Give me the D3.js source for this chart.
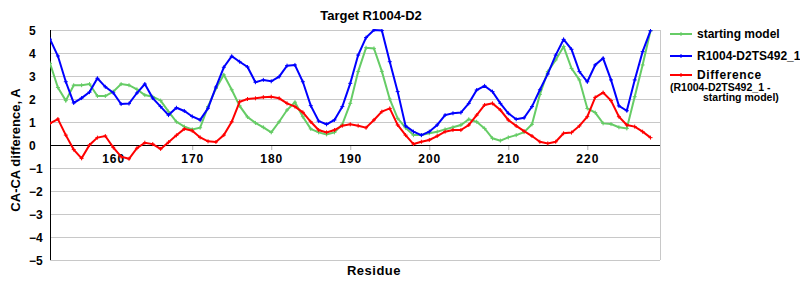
<!DOCTYPE html>
<html>
<head>
<meta charset="utf-8">
<script src="https://cdn.jsdelivr.net/npm/d3@7"></script>
<style>
  body { margin: 0; background: #fff; }
  svg { display: block; font-family: "Liberation Sans", Arial, sans-serif; }
</style>
</head>
<body>
<div id="chart"></div>
<script>
// residues 152..228
const firstResidue = 152;

const startingModel = [
  3.55, 2.5, 1.93, 2.6, 2.6, 2.65, 2.13, 2.13, 2.32, 2.65, 2.6, 2.42, 2.17, 2.1, 1.93,
  1.45, 1.01, 0.8, 0.68, 0.75, 1.67, 2.46, 3.05, 2.4, 1.7, 1.22, 0.96, 0.77, 0.55,
  1.01, 1.52, 1.86, 1.23, 0.7, 0.55, 0.46, 0.55, 0.9, 1.81, 3.19, 4.23, 4.2, 3.2,
  1.99, 1.16, 0.75, 0.43, 0.43, 0.51, 0.58, 0.68, 0.77, 0.87, 1.12, 1.01, 0.72, 0.29, 0.19, 0.33, 0.43, 0.56, 0.9, 2.2,
  3.19, 3.7, 4.28, 3.33, 2.83, 1.59, 1.41, 0.94, 0.91, 0.77, 0.72, 2.1, 3.48, 4.97
];

const ts492 = [
  4.6, 3.87, 2.75, 1.83, 2.04, 2.3, 2.9, 2.53, 2.27, 1.78, 1.8, 2.26, 2.65, 2.04, 1.67,
  1.3, 1.62, 1.48, 1.24, 1.09, 1.6, 2.52, 3.38, 3.86, 3.62, 3.39, 2.73, 2.83, 2.77,
  2.97, 3.45, 3.48, 2.75, 1.71, 1.04, 0.9, 1.09, 1.67, 2.68, 3.91, 4.67, 5.0, 4.98,
  3.62, 2.32, 0.83, 0.58, 0.43, 0.58, 0.87, 1.3, 1.38, 1.41, 1.81, 2.39, 2.57, 2.32, 1.81, 1.38, 1.12, 1.18, 1.67, 2.4,
  3.09, 3.91, 4.59, 4.16, 3.19, 2.75, 3.48, 3.77, 2.83, 1.7, 1.49, 2.83, 4.06, 4.97
];

const difference = [
  0.94, 1.13, 0.43, -0.2, -0.58, 0, 0.32, 0.39, -0.1, -0.51, -0.6, -0.14, 0.1, 0.04, -0.17,
  0.12, 0.42, 0.7, 0.62, 0.33, 0.16, 0.13, 0.43, 1.01, 1.88, 2.0, 2.03, 2.08, 2.1,
  2.03, 1.81, 1.67, 1.42, 1.01, 0.65, 0.55, 0.65, 0.84, 0.9, 0.84, 0.75, 1.09, 1.45,
  1.59, 0.87, 0.43, 0.04, 0.14, 0.22, 0.39, 0.58, 0.65, 0.65, 0.87, 1.3, 1.74, 1.81, 1.52, 1.09, 0.83, 0.6, 0.39, 0.14,
  0.07, 0.14, 0.51, 0.54, 0.83, 1.23, 2.07, 2.28, 1.93, 1.23, 0.87, 0.8, 0.58, 0.32
];

const xTicks = [160, 170, 180, 190, 200, 210, 220];
const yTicks = [5, 4, 3, 2, 1, 0, -1, -2, -3, -4, -5];

const series = [
  { name: 'starting model', values: startingModel, color: '#66cc66' },
  { name: 'R1004-D2TS492_1', values: ts492, color: '#0000ff' },
  { name: 'Difference', values: difference, color: '#ff0000' }
];

const width = 800;
const height = 300;
const plot = { left: 50, right: 660, top: 30, bottom: 260 };

const svg = d3.select('#chart')
  .append('svg')
  .attr('width', width)
  .attr('height', height);

svg.append('rect').attr('width', width).attr('height', height).attr('fill', '#fff');

const x = d3.scaleLinear()
  .domain([firstResidue, 229.2])
  .range([plot.left, plot.right]);

const y = d3.scaleLinear()
  .domain([-5, 5])
  .range([plot.bottom, plot.top]);

// grid
svg.append('g')
  .selectAll('line')
  .data(yTicks)
  .enter()
  .append('line')
  .attr('x1', plot.left)
  .attr('x2', plot.right)
  .attr('y1', d => y(d))
  .attr('y2', d => y(d))
  .attr('stroke', '#c8c8c8')
  .attr('stroke-width', 1)
  .attr('shape-rendering', 'crispEdges');

svg.append('line')
  .attr('x1', plot.right).attr('x2', plot.right)
  .attr('y1', plot.top).attr('y2', plot.bottom)
  .attr('stroke', '#c8c8c8')
  .attr('shape-rendering', 'crispEdges');

// y tick labels
svg.append('g')
  .selectAll('text')
  .data(yTicks)
  .enter()
  .append('text')
  .attr('x', 29)
  .attr('y', d => y(d) + 4.5)
  .attr('font-size', 12)
  .attr('font-weight', 'bold')
  .text(d => d < 0 ? '\u2212' + Math.abs(d) : d);

// x axis at zero
const xAxis = d3.axisBottom(x)
  .tickValues(xTicks)
  .tickSize(5)
  .tickPadding(4)
  .tickFormat(d3.format('d'));

const gx = svg.append('g')
  .attr('transform', `translate(0,${y(0)})`)
  .call(xAxis);
gx.select('.domain').remove();
gx.selectAll('.tick line').attr('stroke', '#b0b0b0');
gx.selectAll('.tick text')
  .attr('font-family', '"Liberation Sans", Arial, sans-serif')
  .attr('font-size', 12)
  .attr('font-weight', 'bold')
  .attr('letter-spacing', 1)
  .attr('fill', '#000');

svg.append('line')
  .attr('x1', plot.left).attr('x2', plot.right)
  .attr('y1', y(0)).attr('y2', y(0))
  .attr('stroke', '#000')
  .attr('shape-rendering', 'crispEdges');

svg.append('line')
  .attr('x1', plot.left).attr('x2', plot.left)
  .attr('y1', plot.top).attr('y2', plot.bottom)
  .attr('stroke', '#000')
  .attr('shape-rendering', 'crispEdges');

// lines
const line = d3.line()
  .x((d, i) => x(firstResidue + i))
  .y(d => y(d));

svg.append('defs').append('clipPath').attr('id', 'clip')
  .append('rect')
  .attr('x', plot.left).attr('y', plot.top - 1)
  .attr('width', plot.right - plot.left).attr('height', plot.bottom - plot.top + 2);

const marker = 'M-2,0H2M0,-2V2';

series.forEach(s => {
  const g = svg.append('g').attr('clip-path', 'url(#clip)');
  g.append('path')
    .datum(s.values)
    .attr('d', line)
    .attr('fill', 'none')
    .attr('stroke', s.color)
    .attr('stroke-width', 2);
  g.selectAll('path.mk')
    .data(s.values)
    .enter()
    .append('path')
    .attr('class', 'mk')
    .attr('d', marker)
    .attr('transform', (d, i) => `translate(${x(firstResidue + i)},${y(d)})`)
    .attr('stroke', s.color)
    .attr('stroke-width', 1);
});

// title and axis labels
svg.append('text')
  .attr('x', 371)
  .attr('y', 20)
  .attr('text-anchor', 'middle')
  .attr('font-size', 13)
  .attr('font-weight', 'bold')
  .text('Target R1004-D2');

svg.append('text')
  .attr('transform', 'translate(20,150) rotate(-90)')
  .attr('text-anchor', 'middle')
  .attr('font-size', 13)
  .attr('font-weight', 'bold')
  .text('CA-CA difference, A');

svg.append('text')
  .attr('x', 374)
  .attr('y', 275)
  .attr('text-anchor', 'middle')
  .attr('font-size', 13)
  .attr('font-weight', 'bold')
  .attr('letter-spacing', 0.5)
  .text('Residue');

// legend
const legendY = [34, 56, 75];
const legend = svg.append('g');
series.forEach((s, i) => {
  legend.append('line')
    .attr('x1', 670).attr('x2', 692)
    .attr('y1', legendY[i]).attr('y2', legendY[i])
    .attr('stroke', s.color)
    .attr('stroke-width', 2);
  legend.append('path')
    .attr('d', marker)
    .attr('transform', `translate(681,${legendY[i]})`)
    .attr('stroke', s.color);
  legend.append('text')
    .attr('x', 697)
    .attr('y', legendY[i] + 4)
    .attr('font-size', 12)
    .attr('font-weight', 'bold')
    .attr('letter-spacing', i === 2 ? 0.6 : 0)
    .text(s.name);
});
legend.append('text')
  .attr('x', 670).attr('y', 90.5)
  .attr('font-size', 10.5)
  .attr('font-weight', 'bold')
  .text('(R1004-D2TS492_1 -');
legend.append('text')
  .attr('x', 703).attr('y', 101)
  .attr('font-size', 10.5)
  .attr('font-weight', 'bold')
  .text('starting model)');
</script>
</body>
</html>
